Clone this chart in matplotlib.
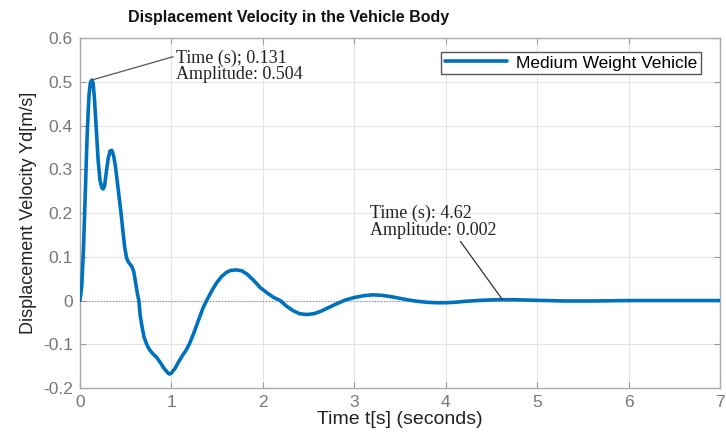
import matplotlib.pyplot as plt

# response
t = [0, 0.02, 0.04, 0.06, 0.08, 0.10, 0.115, 0.131, 0.145, 0.16, 0.18, 0.20,
     0.22, 0.24, 0.255, 0.27, 0.29, 0.31, 0.33, 0.35, 0.37, 0.39, 0.41, 0.43,
     0.45, 0.47, 0.49, 0.51, 0.53, 0.55, 0.57, 0.59, 0.61, 0.63, 0.645, 0.66,
     0.68, 0.70, 0.73, 0.76, 0.80, 0.84, 0.88, 0.92, 0.96, 0.98, 1.0, 1.04,
     1.08, 1.12, 1.16, 1.20, 1.25, 1.30, 1.35, 1.386, 1.45, 1.5, 1.55, 1.6,
     1.65, 1.71, 1.77, 1.83, 1.9, 1.97, 2.05, 2.12, 2.19, 2.26, 2.33, 2.4,
     2.48, 2.56, 2.64, 2.72, 2.8, 2.9, 3.0, 3.1, 3.2, 3.3, 3.4, 3.5, 3.6,
     3.7, 3.8, 3.9, 4.0, 4.1, 4.2, 4.35, 4.5, 4.62, 4.75, 4.9, 5.1, 5.3,
     5.6, 6.0, 6.5, 7.0]
yd = [0, 0.03, 0.12, 0.25, 0.38, 0.47, 0.498, 0.504, 0.497, 0.46, 0.39, 0.32,
      0.275, 0.258, 0.255, 0.262, 0.295, 0.325, 0.342, 0.343, 0.33, 0.305,
      0.27, 0.235, 0.20, 0.16, 0.122, 0.098, 0.088, 0.083, 0.077, 0.065, 0.04,
      0.015, 0.0, -0.035, -0.06, -0.082, -0.1, -0.112, -0.122, -0.13, -0.142,
      -0.155, -0.165, -0.168, -0.166, -0.155, -0.14, -0.126, -0.114, -0.098,
      -0.072, -0.043, -0.015, 0.0, 0.025, 0.042, 0.055, 0.064, 0.069, 0.070,
      0.068, 0.06, 0.046, 0.03, 0.017, 0.007, 0.0, -0.013, -0.023, -0.03,
      -0.032, -0.03, -0.024, -0.016, -0.008, 0.001, 0.007, 0.011, 0.013,
      0.012, 0.009, 0.005, 0.001, -0.002, -0.004, -0.005, -0.005, -0.004,
      -0.002, 0.0, 0.0015, 0.002, 0.002, 0.001, 0.0, -0.001, -0.001, 0.0,
      0.0, 0.0]

peak = (0.131, 0.504)
settle = (4.62, 0.002)

fig = plt.figure(figsize=(7.26, 4.37), dpi=100)
ax = fig.add_axes([0.110, 0.112, 0.882, 0.801])

ax.axhline(0, color='#888888', lw=0.8, ls=':', zorder=1)
ax.plot(t, yd, color='#0072BD', lw=2.6, label='Medium Weight Vehicle',
        zorder=3, solid_joinstyle='round', solid_capstyle='round')

ax.set_xlim(0, 7)
ax.set_ylim(-0.2, 0.6)
ax.set_xticks(range(8))
ax.set_yticks([-0.2, -0.1, 0, 0.1, 0.2, 0.3, 0.4, 0.5, 0.6])
ax.set_yticklabels(['-0.2', '-0.1', '0', '0.1', '0.2', '0.3', '0.4', '0.5', '0.6'])
ax.grid(True, color='#e3e3e3', lw=0.8)
ax.set_axisbelow(True)
ax.tick_params(direction='in', length=4, colors='#999999', labelcolor='#777777',
               labelsize=12.5, top=True, right=True, pad=5)
for lab in ax.get_xticklabels() + ax.get_yticklabels():
    lab.set_family('Liberation Sans')
for s in ax.spines.values():
    s.set_color('#aaaaaa')
    s.set_linewidth(1.0)

ax.set_xlabel('Time t[s] (seconds)', family='Liberation Sans', fontsize=14,
              color='#222222', labelpad=1)
ax.set_ylabel('Displacement Velocity Yd[m/s]', family='Liberation Sans',
              fontsize=13, color='#222222', labelpad=4)
fig.text(0.397, 0.96, 'Displacement Velocity in the Vehicle Body',
         family='Liberation Sans', fontweight='bold', fontsize=11.5,
         ha='center', va='center', color='#111111')

ax.annotate('Time (s); 0.131\nAmplitude: 0.504', xy=peak, xytext=(1.05, 0.536),
            family='Liberation Serif', fontsize=13, va='center', ha='left',
            linespacing=0.95, color='#222222',
            arrowprops=dict(arrowstyle='-', color='#555555', lw=0.9,
                            shrinkA=0, shrinkB=0, relpos=(0, 0.8)))
ax.annotate('Time (s): 4.62\nAmplitude: 0.002', xy=settle, xytext=(3.17, 0.18),
            family='Liberation Serif', fontsize=13, va='center', ha='left',
            linespacing=0.95, color='#222222',
            arrowprops=dict(arrowstyle='-', color='#333333', lw=0.9,
                            shrinkA=0, shrinkB=0, relpos=(0.7, 0)))

leg = ax.legend(loc='upper right', prop={'family': 'Liberation Sans', 'size': 12.5},
                fancybox=False, framealpha=1, edgecolor='#555555',
                handlelength=3.6, borderpad=0.2, handletextpad=0.5,
                bbox_to_anchor=(0.983, 0.985))
leg.get_frame().set_linewidth(1.0)

fig.savefig('out.png', dpi=100)
